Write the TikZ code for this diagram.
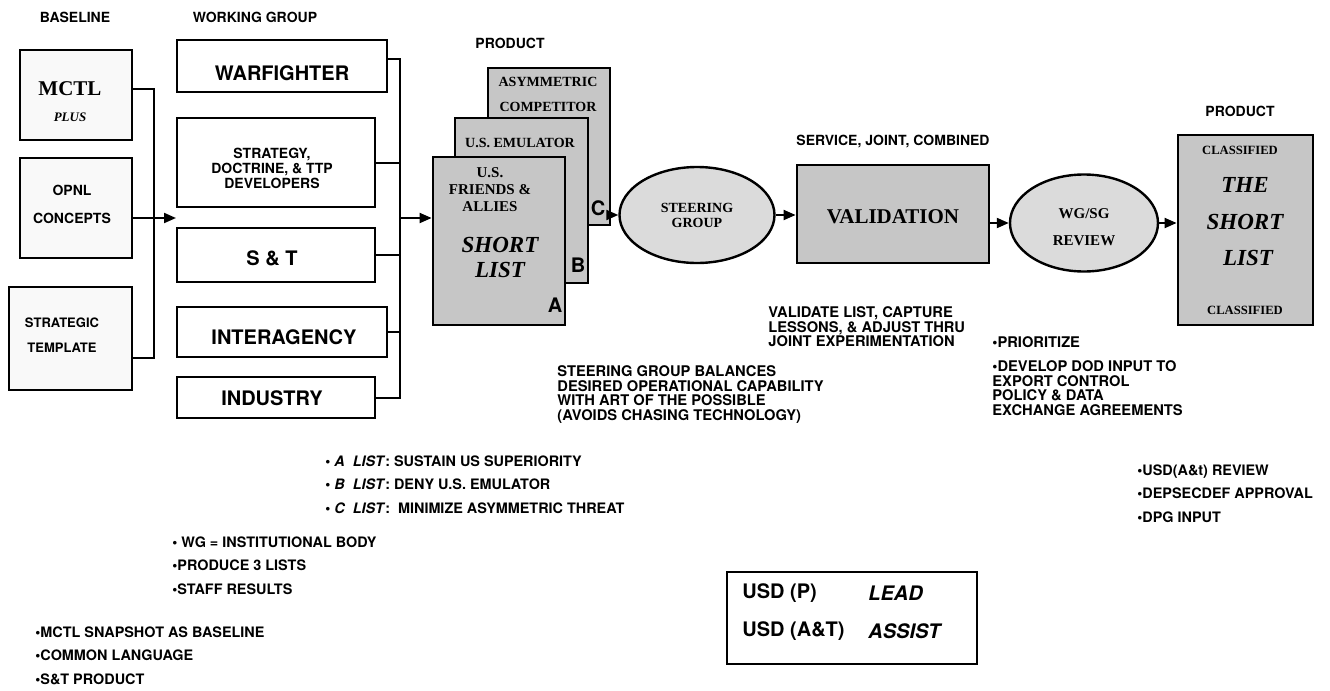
\documentclass[tikz,border=0pt]{standalone}
\usepackage{fontspec}
\setmainfont{Liberation Serif}
\setsansfont{TeX Gyre Heros}
\usetikzlibrary{arrows.meta,shapes.geometric}

\begin{document}
\begin{tikzpicture}[
  x=0.5pt, y=-0.5pt,
  every node/.style={inner sep=0pt},
  litebox/.style={draw, line width=1.2pt, fill=gray!5},
  wgbox/.style={draw, line width=1.2pt, fill=white},
  darkbox/.style={draw, line width=1.4pt, fill=gray!45},
  oval/.style={ellipse, draw, line width=1.2pt, fill=gray!28},
  conn/.style={line width=1pt},
  arr/.style={line width=1pt, -{Triangle[length=6pt,width=5pt]}},
  head/.style={font=\sffamily\bfseries\fontsize{7}{8}\selectfont},
  note/.style={font=\sffamily\bfseries\fontsize{7.35}{7.4}\selectfont, align=left, anchor=north west},
  bullets/.style={font=\sffamily\bfseries\fontsize{7.2}{11.8}\selectfont, align=left, anchor=north west},
  wgtext/.style={font=\sffamily\bfseries\fontsize{10}{12}\selectfont},
  smalltext/.style={font=\sffamily\bfseries\fontsize{7}{7.5}\selectfont, align=center},
  listtext/.style={font=\rmfamily\bfseries\fontsize{7}{8}\selectfont},
  bigtext/.style={font=\rmfamily\bfseries\itshape\fontsize{11.5}{12}\selectfont},
  tag/.style={font=\sffamily\bfseries\fontsize{10}{12}\selectfont}
]
\useasboundingbox (0,0) rectangle (1330,691);

% headings
\node[head] (hbase) at (75,17) {BASELINE};
\node[head] (hwg) at (255,17) {WORKING GROUP};
\node[head] (hprod) at (510,43) {PRODUCT};
\node[head] (hserv) at (893,142) {SERVICE, JOINT, COMBINED};
\node[head] (hprod2) at (1240,111) {PRODUCT};

% baseline
\node[litebox, minimum width=56pt, minimum height=45pt] (mctl) at (76,95) {};
\node[font=\rmfamily\bfseries\fontsize{10.5}{12}\selectfont] at (70,89) {MCTL};
\node[font=\rmfamily\bfseries\itshape\fontsize{6.5}{8}\selectfont] at (70,117) {PLUS};
\node[litebox, minimum width=56pt, minimum height=50pt] (opnl) at (76,208) {};
\node[smalltext, font=\sffamily\bfseries\fontsize{7}{14}\selectfont] at (72,204) {OPNL\\CONCEPTS};
\node[litebox, minimum width=61.5pt, minimum height=51.5pt] (strat) at (70.5,338.5) {};
\node[smalltext, font=\sffamily\bfseries\fontsize{6.5}{12.5}\selectfont] at (62,335) {STRATEGIC\\TEMPLATE};

\coordinate (lbar) at (154,218);
\coordinate (wgin) at (176,218);
\draw[conn] ([yshift=3pt]mctl.east) -| (lbar) |- ([yshift=-9.5pt]strat.east);
\draw[arr] ([yshift=-5pt]opnl.east) -- (wgin);

% working group
\node[wgbox, minimum width=105pt, minimum height=26pt] (warf) at (282,66) {};
\node[wgtext] at (282,73) {WARFIGHTER};
\node[wgbox, minimum width=99pt, minimum height=44.5pt] (strategy) at (276,162.5) {};
\node[smalltext] at (272,168) {STRATEGY,\\DOCTRINE, \& TTP\\DEVELOPERS};
\node[wgbox, minimum width=99pt, minimum height=27pt] (st) at (276,255) {};
\node[wgtext] at (272,258) {S \& T};
\node[wgbox, minimum width=105pt, minimum height=25pt] (inter) at (282,332) {};
\node[wgtext] at (284,337) {INTERAGENCY};
\node[wgbox, minimum width=99pt, minimum height=20.5pt] (indus) at (276,397.5) {};
\node[wgtext] at (272,398) {INDUSTRY};

\coordinate (rbar) at (400,218);
\draw[conn] ([yshift=3.5pt]warf.east) -| (rbar) |- (indus.east);
\draw[conn] (strategy.east) -- (strategy.east -| rbar);
\draw[conn] (st.east) -- (st.east -| rbar);
\draw[conn] (inter.east) -- (inter.east -| rbar);

% stacked lists
\node[darkbox, minimum width=61pt, minimum height=78.5pt] (listc) at (549,146.5) {};
\node[listtext] at (548,82) {ASYMMETRIC};
\node[listtext] at (548,107) {COMPETITOR};
\node[tag] at (598,208) {C};
\node[darkbox, minimum width=66.5pt, minimum height=82.5pt] (listb) at (521.5,200.5) {};
\node[listtext] at (520,143) {U.S. EMULATOR};
\node[tag] at (578,265) {B};
\node[darkbox, minimum width=66pt, minimum height=84pt] (lista) at (499,241) {};
\node[listtext, font=\rmfamily\bfseries\fontsize{7.5}{8.5}\selectfont, align=center] at (490,190) {U.S.\\FRIENDS \&\\ALLIES};
\node[bigtext, align=center, font=\rmfamily\bfseries\itshape\fontsize{11.5}{12.5}\selectfont] at (500,257) {SHORT\\LIST};
\node[tag] at (555,305) {A};
\draw[arr] (rbar) -- (rbar -| lista.west);

% steering, validation, review
\node[oval, minimum width=77.5pt, minimum height=48pt] (steer) at (697,215) {};
\node[listtext, align=center, font=\rmfamily\bfseries\fontsize{7}{7.5}\selectfont] at (697,215) {STEERING\\GROUP};
\node[darkbox, minimum width=96pt, minimum height=49pt] (valid) at (893,214) {};
\node[font=\rmfamily\bfseries\fontsize{10.5}{12}\selectfont] at (893,217) {VALIDATION};
\node[oval, minimum width=74pt, minimum height=48.5pt] (wgsg) at (1084,223) {};
\node[listtext, align=center, font=\rmfamily\bfseries\fontsize{7.5}{13.5}\selectfont] at (1084,227) {WG/SG\\REVIEW};
\node[darkbox, minimum width=67.5pt, minimum height=95pt] (final) at (1245.5,230) {};
\node[listtext, font=\rmfamily\bfseries\fontsize{6.3}{7}\selectfont] at (1240,150) {CLASSIFIED};
\node[bigtext] at (1245,185) {THE};
\node[bigtext] at (1245,222) {SHORT};
\node[bigtext] at (1248,258) {LIST};
\node[listtext, font=\rmfamily\bfseries\fontsize{6.3}{7}\selectfont] at (1245,310) {CLASSIFIED};

\draw[arr] (listc.east |- steer.west) -- (steer.west);
\draw[arr] (steer.east) -- (steer.east -| valid.west);
\draw[arr] (valid.east |- wgsg.west) -- (wgsg.west);
\draw[arr] (wgsg.east) -- (wgsg.east -| final.west);

% notes
\node[note] (valnote) at (768,306) {VALIDATE LIST, CAPTURE\\LESSONS, \& ADJUST THRU\\JOINT EXPERIMENTATION};
\node[note] (sgnote) at (557,365) {STEERING GROUP BALANCES\\DESIRED OPERATIONAL CAPABILITY\\WITH ART OF THE POSSIBLE\\(AVOIDS CHASING TECHNOLOGY)};
\node[note] (prinote) at (992,336) {•PRIORITIZE};
\node[note] (devnote) at (992,360) {•DEVELOP DOD INPUT TO\\EXPORT CONTROL\\POLICY \& DATA\\EXCHANGE AGREEMENTS};
\node[bullets] (abcnote) at (325,455) {• \textit{A\ \ LIST}: SUSTAIN US SUPERIORITY\\• \textit{B\ \ LIST}: DENY U.S. EMULATOR\\• \textit{C\ \ LIST}:\ \ MINIMIZE ASYMMETRIC THREAT};
\node[bullets] (wgnote) at (172,536) {• WG = INSTITUTIONAL BODY\\•PRODUCE 3 LISTS\\•STAFF RESULTS};
\node[bullets] (basenote) at (35,626) {•MCTL SNAPSHOT AS BASELINE\\•COMMON LANGUAGE\\•S\&T PRODUCT};
\node[bullets] (usdnote) at (1137,464) {•USD(A\&t) REVIEW\\•DEPSECDEF APPROVAL\\•DPG INPUT};

% lead box
\node[draw, line width=1.2pt, minimum width=125pt, minimum height=46pt] (lead) at (852,618) {};
\node[wgtext, anchor=west] (usdp) at (742,593) {USD (P)};
\node[wgtext, anchor=west] (usdat) at (742,631) {USD (A\&T)};
\node[wgtext, anchor=west, font=\sffamily\bfseries\itshape\fontsize{10}{12}\selectfont] at (868,593) {LEAD};
\node[wgtext, anchor=west, font=\sffamily\bfseries\itshape\fontsize{10}{12}\selectfont] at (868,631) {ASSIST};
\end{tikzpicture}
\end{document}
